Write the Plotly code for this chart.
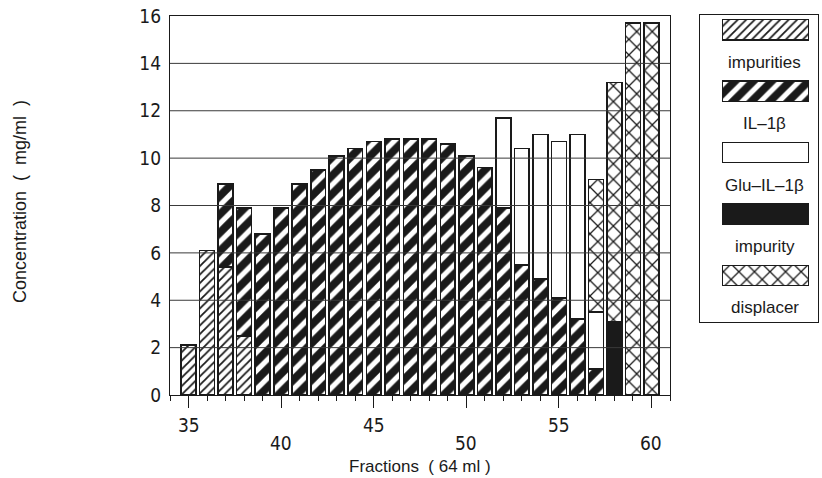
import plotly.graph_objects as go

# ---------------- data ----------------
fractions = [35, 36, 37, 38, 39, 40, 41, 42, 43, 44, 45, 46, 47, 48, 49,
             50, 51, 52, 53, 54, 55, 56, 57, 58, 59, 60]
impurities = [2.1, 6.1, 5.4, 2.5, None, None, None, None, None, None, None, None, None,
              None, None, None, None, None, None, None, None, None, None, None, None, None]
il1b = [None, None, 3.5, 5.4, 6.8, 7.9, 8.9, 9.5, 10.1, 10.4, 10.7, 10.8, 10.8,
        10.8, 10.6, 10.1, 9.6, 7.9, 5.5, 4.9, 4.1, 3.2, 1.1, None, None, None]
glu_il1b = [None, None, None, None, None, None, None, None, None, None, None, None, None,
            None, None, None, None, 3.8, 4.9, 6.1, 6.6, 7.8, 2.4, None, None, None]
impurity = [None, None, None, None, None, None, None, None, None, None, None, None, None,
            None, None, None, None, None, None, None, None, None, None, 3.1, None, None]
displacer = [None, None, None, None, None, None, None, None, None, None, None, None, None,
             None, None, None, None, None, None, None, None, None, 5.6, 10.1, 15.7, 15.7]

series_names = ["impurities", "IL\u20131\u03b2", "Glu\u2013IL\u20131\u03b2", "impurity", "displacer"]
series_values = [impurities, il1b, glu_il1b, impurity, displacer]

x_tick_vals = [35, 40, 45, 50, 55, 60]
x_tick_text = ["35", "40", "45", "50", "55", "60"]
y_tick_vals = [0, 2, 4, 6, 8, 10, 12, 14, 16]

# ---------------- styles ----------------
INK = "#1a1a1a"
CLEAR = "rgba(255,255,255,0)"
styles = [
    dict(color=CLEAR, pattern=dict(shape="/", fgcolor=INK, bgcolor=CLEAR, fgopacity=1,
                                   fillmode="replace", size=6, solidity=0.3)),
    dict(color=INK, pattern=dict(shape="/", fgcolor="white", bgcolor=INK, fgopacity=1,
                                 fillmode="replace", size=13, solidity=0.4)),
    dict(color=CLEAR),
    dict(color=INK),
    dict(color=CLEAR, pattern=dict(shape="x", fgcolor=INK, bgcolor=CLEAR, fgopacity=1,
                                   fillmode="replace", size=11, solidity=0.22)),
]
NUMFONT = "Liberation Sans Narrow, DejaVu Sans Condensed, Liberation Sans, sans-serif"
FONT = "Liberation Sans, DejaVu Sans, sans-serif"

fig = go.Figure()
for name, vals, st in zip(series_names, series_values, styles):
    fig.add_trace(go.Bar(
        x=fractions, y=vals, name=name, width=0.8,
        marker=dict(color=st["color"], pattern=st.get("pattern"),
                    line=dict(color=INK, width=1.6)),
    ))

# legend built on a second pair of axes
for i, (name, st) in enumerate(zip(series_names, styles)):
    fig.add_trace(go.Bar(
        x=[0.73], base=[0.19], y=[i + 0.24], width=0.33, orientation="h",
        xaxis="x2", yaxis="y2", showlegend=False,
        marker=dict(color=st["color"], pattern=st.get("pattern"),
                    line=dict(color=INK, width=1.4)),
    ))
    fig.add_annotation(x=0.55, y=i + 0.77, xref="x2", yref="y2", text=name,
                       showarrow=False, yanchor="middle", xanchor="center",
                       font=dict(family=FONT, size=17, color=INK))

W, H = 822, 478
fig.update_layout(
    width=W, height=H, margin=dict(l=0, r=0, t=0, b=0, autoexpand=False),
    paper_bgcolor="white", plot_bgcolor="white",
    barmode="stack", showlegend=False,
    font=dict(family=FONT, color=INK),
    xaxis=dict(domain=[170 / W, 670 / W], range=[34, 61], automargin=False,
               tickvals=x_tick_vals, ticktext=x_tick_text, showticklabels=False,
               ticks="outside", ticklen=12, tickwidth=1.3, tickcolor=INK,
               minor=dict(dtick=1, tick0=35, ticks="outside", ticklen=5,
                          tickwidth=1.3, tickcolor=INK, showgrid=False),
               showline=True, mirror=True, linecolor=INK, linewidth=1.3,
               showgrid=False, zeroline=False),
    yaxis=dict(domain=[(H - 395) / H, (H - 16) / H], range=[0, 16], automargin=False,
               tickvals=y_tick_vals, ticks="", showgrid=False, zeroline=False,
               showline=True, mirror=True, linecolor=INK, linewidth=1.3,
               ticklabelstandoff=4,
               tickfont=dict(family=NUMFONT, size=19, color=INK)),
    xaxis2=dict(domain=[700 / W, 818 / W], range=[0, 1], anchor="y2", automargin=False,
                showline=True, mirror=True, linecolor=INK, linewidth=1.3,
                showticklabels=False, ticks="", showgrid=False, zeroline=False),
    yaxis2=dict(domain=[(H - 322) / H, (H - 15) / H], range=[5, 0], anchor="x2",
                automargin=False,
                showline=True, mirror=True, linecolor=INK, linewidth=1.3,
                showticklabels=False, ticks="", showgrid=False, zeroline=False),
)

# staggered x tick labels (alternate rows as in the reference)
for k, (v, t) in enumerate(zip(x_tick_vals, x_tick_text)):
    row_y = (H - 425) / H if k % 2 == 0 else (H - 443) / H
    fig.add_annotation(x=v, y=row_y, xref="x", yref="paper", text=t, showarrow=False,
                       xanchor="center", yanchor="middle",
                       font=dict(family=NUMFONT, size=19, color=INK))

# grid lines drawn above the bars, as in the reference
for v in y_tick_vals[1:-1]:
    fig.add_shape(type="line", xref="x domain", yref="y", x0=0, x1=1, y0=v, y1=v,
                  line=dict(color="#3a3a3a", width=1), layer="above")

fig.add_annotation(x=420 / W, y=(H - 466) / H, xref="paper", yref="paper",
                   text="Fractions  ( 64 ml )", showarrow=False,
                   xanchor="center", yanchor="middle",
                   font=dict(family=FONT, size=17, color=INK))
fig.add_annotation(x=20 / W, y=(H - 202) / H, xref="paper", yref="paper",
                   text="Concentration  (  mg/ml  )", textangle=-90, showarrow=False,
                   xanchor="center", yanchor="middle",
                   font=dict(family=FONT, size=18, color=INK))

fig.write_html("out.html")
